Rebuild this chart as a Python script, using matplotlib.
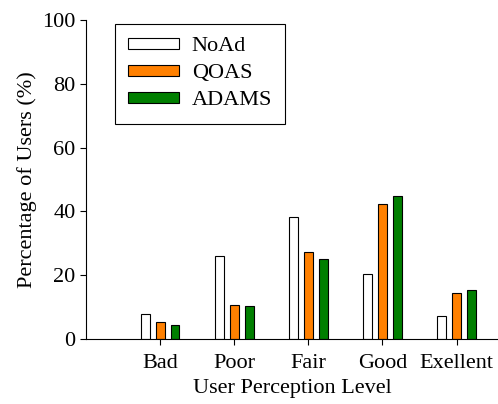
import numpy as np
import matplotlib.pyplot as plt

plt.rcParams['font.family'] = ['Liberation Serif', 'DejaVu Serif']

categories = ['Bad', 'Poor', 'Fair', 'Good', 'Exellent']
noad = [7.9, 26.1, 38.3, 20.5, 7.2]
qoas = [5.2, 10.6, 27.2, 42.4, 14.5]
adams = [4.5, 10.2, 25.2, 44.8, 15.3]

x = np.arange(1, len(categories) + 1)
w = 0.12
step = 0.2

fig = plt.figure(figsize=(4.98, 4.04), dpi=100)
ax = fig.add_axes([0.173, 0.161, 0.827, 0.789])

ax.bar(x - step, noad, w, color='white', edgecolor='black', linewidth=0.8, label='NoAd')
ax.bar(x, qoas, w, color='#ff8000', edgecolor='black', linewidth=0.8, label='QOAS')
ax.bar(x + step, adams, w, color='#007f00', edgecolor='black', linewidth=0.8, label='ADAMS')

ax.set_xlim(0, 5.56)
ax.set_ylim(0, 100)
ax.set_xticks(x)
ax.set_xticklabels(categories)
ax.set_yticks([0, 20, 40, 60, 80, 100])
ax.tick_params(labelsize=16, direction='out', length=4, width=0.8)
ax.tick_params(axis='x', pad=7)
ax.set_xlabel('User Perception Level', fontsize=16, labelpad=4)
ax.set_ylabel('Percentage of Users (%)', fontsize=16, labelpad=4)
for s in ['top', 'right']:
    ax.spines[s].set_visible(False)

leg = ax.legend(loc='upper left', bbox_to_anchor=(115 / 498, 1 - 24 / 404),
                bbox_transform=fig.transFigure, fontsize=16,
                frameon=True, fancybox=False, edgecolor='black', framealpha=1,
                handlelength=2.3, handleheight=0.4, handletextpad=0.55,
                borderpad=0.6, borderaxespad=0, labelspacing=0.36)
leg.get_frame().set_linewidth(0.8)

fig.savefig('out.png', dpi=100)
